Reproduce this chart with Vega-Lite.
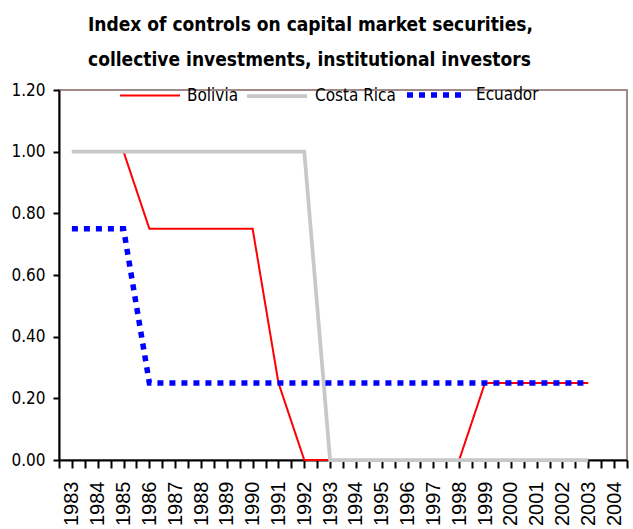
{
  "$schema": "https://vega.github.io/schema/vega-lite/v6.json",
  "width": 568,
  "height": 370,
  "padding": {"left": 10, "top": 16, "right": 6, "bottom": 0},
  "background": "white",
  "config": {
    "view": {"stroke": "#a08a8a", "strokeWidth": 2},
    "font": "'Liberation Sans Narrow', 'DejaVu Sans Condensed', 'Liberation Sans', sans-serif"
  },
  "title": {
    "text": ["Index of controls on capital market securities,", "collective investments, institutional investors"],
    "font": "'Liberation Sans Narrow', 'DejaVu Sans Condensed', 'Liberation Sans', sans-serif",
    "fontSize": 19,
    "fontWeight": "bold",
    "lineHeight": 35,
    "anchor": "start",
    "frame": "group",
    "dx": 29,
    "offset": -8,
    "color": "black"
  },
  "data": {
    "values": [
      {"country": "Bolivia", "year": 1983, "value": 1.0},
      {"country": "Bolivia", "year": 1984, "value": 1.0},
      {"country": "Bolivia", "year": 1985, "value": 1.0},
      {"country": "Bolivia", "year": 1986, "value": 0.75},
      {"country": "Bolivia", "year": 1987, "value": 0.75},
      {"country": "Bolivia", "year": 1988, "value": 0.75},
      {"country": "Bolivia", "year": 1989, "value": 0.75},
      {"country": "Bolivia", "year": 1990, "value": 0.75},
      {"country": "Bolivia", "year": 1991, "value": 0.25},
      {"country": "Bolivia", "year": 1992, "value": 0.0},
      {"country": "Bolivia", "year": 1993, "value": 0.0},
      {"country": "Bolivia", "year": 1994, "value": 0.0},
      {"country": "Bolivia", "year": 1995, "value": 0.0},
      {"country": "Bolivia", "year": 1996, "value": 0.0},
      {"country": "Bolivia", "year": 1997, "value": 0.0},
      {"country": "Bolivia", "year": 1998, "value": 0.0},
      {"country": "Bolivia", "year": 1999, "value": 0.25},
      {"country": "Bolivia", "year": 2000, "value": 0.25},
      {"country": "Bolivia", "year": 2001, "value": 0.25},
      {"country": "Bolivia", "year": 2002, "value": 0.25},
      {"country": "Bolivia", "year": 2003, "value": 0.25},
      {"country": "Costa Rica", "year": 1983, "value": 1.0},
      {"country": "Costa Rica", "year": 1984, "value": 1.0},
      {"country": "Costa Rica", "year": 1985, "value": 1.0},
      {"country": "Costa Rica", "year": 1986, "value": 1.0},
      {"country": "Costa Rica", "year": 1987, "value": 1.0},
      {"country": "Costa Rica", "year": 1988, "value": 1.0},
      {"country": "Costa Rica", "year": 1989, "value": 1.0},
      {"country": "Costa Rica", "year": 1990, "value": 1.0},
      {"country": "Costa Rica", "year": 1991, "value": 1.0},
      {"country": "Costa Rica", "year": 1992, "value": 1.0},
      {"country": "Costa Rica", "year": 1993, "value": 0.0},
      {"country": "Costa Rica", "year": 1994, "value": 0.0},
      {"country": "Costa Rica", "year": 1995, "value": 0.0},
      {"country": "Costa Rica", "year": 1996, "value": 0.0},
      {"country": "Costa Rica", "year": 1997, "value": 0.0},
      {"country": "Costa Rica", "year": 1998, "value": 0.0},
      {"country": "Costa Rica", "year": 1999, "value": 0.0},
      {"country": "Costa Rica", "year": 2000, "value": 0.0},
      {"country": "Costa Rica", "year": 2001, "value": 0.0},
      {"country": "Costa Rica", "year": 2002, "value": 0.0},
      {"country": "Costa Rica", "year": 2003, "value": 0.0},
      {"country": "Ecuador", "year": 1983, "value": 0.75},
      {"country": "Ecuador", "year": 1984, "value": 0.75},
      {"country": "Ecuador", "year": 1985, "value": 0.75},
      {"country": "Ecuador", "year": 1986, "value": 0.25},
      {"country": "Ecuador", "year": 1987, "value": 0.25},
      {"country": "Ecuador", "year": 1988, "value": 0.25},
      {"country": "Ecuador", "year": 1989, "value": 0.25},
      {"country": "Ecuador", "year": 1990, "value": 0.25},
      {"country": "Ecuador", "year": 1991, "value": 0.25},
      {"country": "Ecuador", "year": 1992, "value": 0.25},
      {"country": "Ecuador", "year": 1993, "value": 0.25},
      {"country": "Ecuador", "year": 1994, "value": 0.25},
      {"country": "Ecuador", "year": 1995, "value": 0.25},
      {"country": "Ecuador", "year": 1996, "value": 0.25},
      {"country": "Ecuador", "year": 1997, "value": 0.25},
      {"country": "Ecuador", "year": 1998, "value": 0.25},
      {"country": "Ecuador", "year": 1999, "value": 0.25},
      {"country": "Ecuador", "year": 2000, "value": 0.25},
      {"country": "Ecuador", "year": 2001, "value": 0.25},
      {"country": "Ecuador", "year": 2002, "value": 0.25},
      {"country": "Ecuador", "year": 2003, "value": 0.25}
    ]
  },
  "mark": {"type": "line", "clip": false},
  "encoding": {
    "x": {
      "field": "year",
      "type": "quantitative",
      "scale": {"domain": [1982.5, 2004.5], "nice": false, "zero": false},
      "axis": {
        "title": null,
        "values": [1982.5, 1983, 1983.5, 1984, 1984.5, 1985, 1985.5, 1986, 1986.5, 1987, 1987.5, 1988, 1988.5, 1989, 1989.5, 1990, 1990.5, 1991, 1991.5, 1992, 1992.5, 1993, 1993.5, 1994, 1994.5, 1995, 1995.5, 1996, 1996.5, 1997, 1997.5, 1998, 1998.5, 1999, 1999.5, 2000, 2000.5, 2001, 2001.5, 2002, 2002.5, 2003, 2003.5, 2004, 2004.5],
        "labelExpr": "datum.value % 1 === 0 ? format(datum.value, 'd') : ''",
        "labelAngle": 270,
        "labelFont": "Liberation Sans",
        "labelFontSize": 20,
        "labelColor": "black",
        "labelPadding": 13,
        "labelOverlap": false,
        "labelBound": false,
        "labelFlush": false,
        "tickSize": 8,
        "tickColor": "black",
        "tickWidth": 2,
        "domainColor": "black",
        "domainWidth": 2,
        "grid": false
      }
    },
    "y": {
      "field": "value",
      "type": "quantitative",
      "scale": {"domain": [0, 1.2], "nice": false},
      "axis": {
        "title": null,
        "values": [0, 0.2, 0.4, 0.6, 0.8, 1.0, 1.2],
        "format": ".2f",
        "labelFont": "'Liberation Sans Narrow', 'DejaVu Sans Condensed', 'Liberation Sans', sans-serif",
        "labelFontSize": 17,
        "labelColor": "black",
        "labelPadding": 8,
        "tickSize": 6,
        "tickColor": "black",
        "tickWidth": 2,
        "domainColor": "black",
        "domainWidth": 2,
        "grid": false
      }
    },
    "color": {
      "field": "country",
      "type": "nominal",
      "scale": {"domain": ["Bolivia", "Costa Rica", "Ecuador"], "range": ["#ff0000", "#c8c8c8", "#0000ff"]},
      "legend": {
        "orient": "none",
        "legendX": 60,
        "legendY": -28,
        "direction": "horizontal",
        "title": null,
        "symbolType": "stroke",
        "symbolSize": 3600,
        "labelFont": "'Liberation Sans Narrow', 'DejaVu Sans Condensed', 'Liberation Sans', sans-serif",
        "labelFontSize": 17,
        "labelColor": "black",
        "columnPadding": 0,
        "labelOffset": 6
      }
    },
    "strokeDash": {
      "field": "country",
      "type": "nominal",
      "scale": {"domain": ["Bolivia", "Costa Rica", "Ecuador"], "range": [[1, 0], [1, 0], [6, 6]]}
    },
    "strokeWidth": {
      "field": "country",
      "type": "nominal",
      "scale": {"domain": ["Bolivia", "Costa Rica", "Ecuador"], "range": [2, 5.5, 3]}
    }
  }
}
